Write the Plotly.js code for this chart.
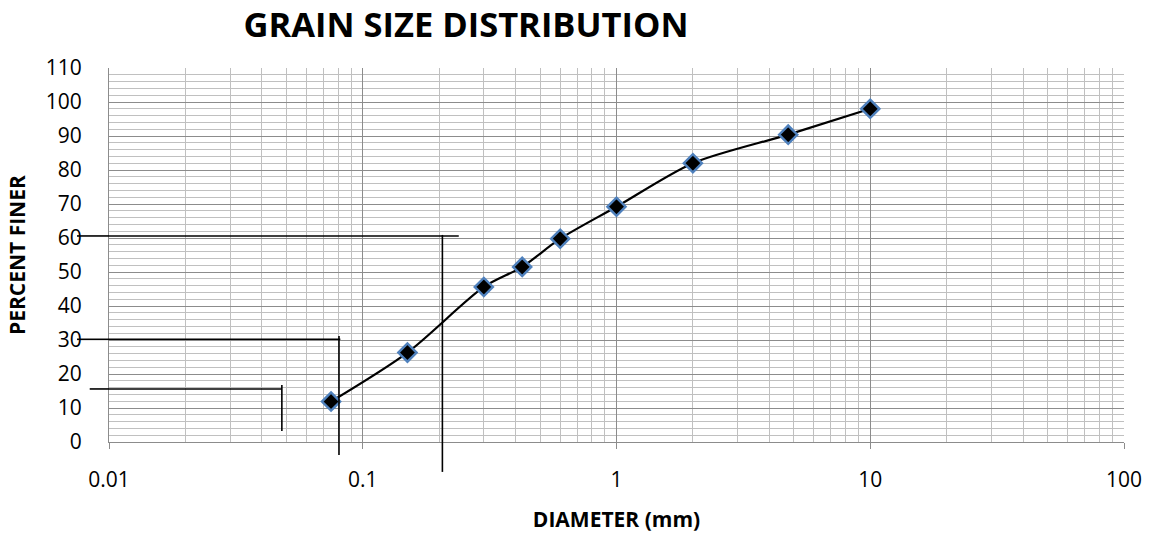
<!DOCTYPE html>
<html>
<head>
<meta charset="utf-8">
<script src="https://cdn.plot.ly/plotly-3.0.1.min.js"></script>
<style>html,body{margin:0;padding:0;background:#fff;}#chart{width:1154px;height:534px;}</style>
</head>
<body>
<div id="chart"></div>
<script>
// Sieve data
var diameter = [0.075, 0.15, 0.3, 0.425, 0.6, 1.0, 2.0, 4.75, 10];
var percentFiner = [11.9, 26.3, 45.6, 51.5, 59.8, 69.2, 82.0, 90.4, 98.0];
var xTickVals = [0.01, 0.1, 1, 10, 100];
var xTickText = ['0.01', '0.1', '1', '10', '100'];
// Guide lines (D-values read on the chart)
var guideD = [0.048, 0.0806, 0.206];       // diameters of vertical guide lines
var guideP = [15.6, 30.2, 60.6];           // percent of horizontal guide lines
var guideHEnd = [0.048, 0.0816, 0.239];     // right end of horizontal guides
var guideVTop = [16.8, 31.2, 60.9];         // top of vertical guides
var guideVBottom = [3.2, -3.8, -8.8];       // bottom of vertical guides (percent scale)

var yMax = 110;
function py(v){ return v / yMax; }

// minor log grid positions (2..9 in every decade)
var minorX = [];
[0.01, 0.1, 1, 10].forEach(function(d){ for (var k = 2; k <= 9; k++) minorX.push(+(d*k).toPrecision(3)); });

var shapes = [];
for (var i = 0; i < guideD.length; i++) {
  shapes.push({type:'line', xref:'paper', yref:'y', x0:(i===0 ? -0.019 : -0.0315), x1:0, y0:guideP[i], y1:guideP[i], line:{color:'#000', width:1.6}});
  shapes.push({type:'line', xref:'x', yref:'y', x0:0.01, x1:guideHEnd[i], y0:guideP[i], y1:guideP[i], line:{color:'#000', width:1.6}});
  shapes.push({type:'line', xref:'x', yref:'paper', x0:guideD[i], x1:guideD[i], y0:py(guideVBottom[i]), y1:py(guideVTop[i]), line:{color:'#000', width:1.6}});
}

var trace = {
  x: diameter, y: percentFiner, type:'scatter', mode:'lines+markers',
  line:{color:'#000', width:2.2, shape:'spline', smoothing:0.8},
  marker:{symbol:'diamond', size:14, color:'#000', line:{color:'#4f81bd', width:2.4}},
  showlegend:false, cliponaxis:false
};

var layout = {
  width:1154, height:534,
  margin:{l:109, r:30, t:68, b:92},
  paper_bgcolor:'#fff', plot_bgcolor:'#fff',
  font:{family:'Open Sans, sans-serif', color:'#000'},
  title:{text:'<b>GRAIN SIZE DISTRIBUTION</b>', font:{size:34.5, family:'Open Sans, sans-serif', color:'#000'}, x:466/1154, xref:'container', xanchor:'center', y:1-25/534, yanchor:'middle'},
  xaxis:{
    type:'log', range:[-2, 2], tickvals:xTickVals, ticktext:xTickText,
    showgrid:true, gridcolor:'#8c8c8c', gridwidth:1,
    minor:{showgrid:true, tickmode:'array', tickvals:minorX, gridcolor:'#c0c0c0', gridwidth:1, ticks:''},
    showline:true, linecolor:'#8c8c8c', linewidth:1,
    ticks:'outside', ticklen:6, tickcolor:'#8c8c8c', ticklabelstandoff:13,
    tickfont:{size:21, color:'#000'}, zeroline:false,
    title:{text:'<b>DIAMETER (mm)</b>', font:{size:21, color:'#000'}, standoff:20}
  },
  yaxis:{
    range:[0, 110], dtick:10, tick0:0,
    showgrid:true, gridcolor:'#8c8c8c', gridwidth:1,
    minor:{showgrid:true, dtick:2, gridcolor:'#c0c0c0', gridwidth:1},
    showline:true, linecolor:'#8c8c8c', linewidth:1,
    ticks:'', ticklabelstandoff:22, tickfont:{size:21, color:'#000'}, zeroline:false
  },
  annotations:[{text:'<b>PERCENT FINER</b>', xref:'paper', yref:'paper', x:(17-109)/1015, y:0.5, xanchor:'center', yanchor:'middle', textangle:-90, showarrow:false, font:{size:21, color:'#000'}}],
  shapes: shapes
};

Plotly.newPlot('chart', [trace], layout, {displayModeBar:false, staticPlot:true});
</script>
</body>
</html>
